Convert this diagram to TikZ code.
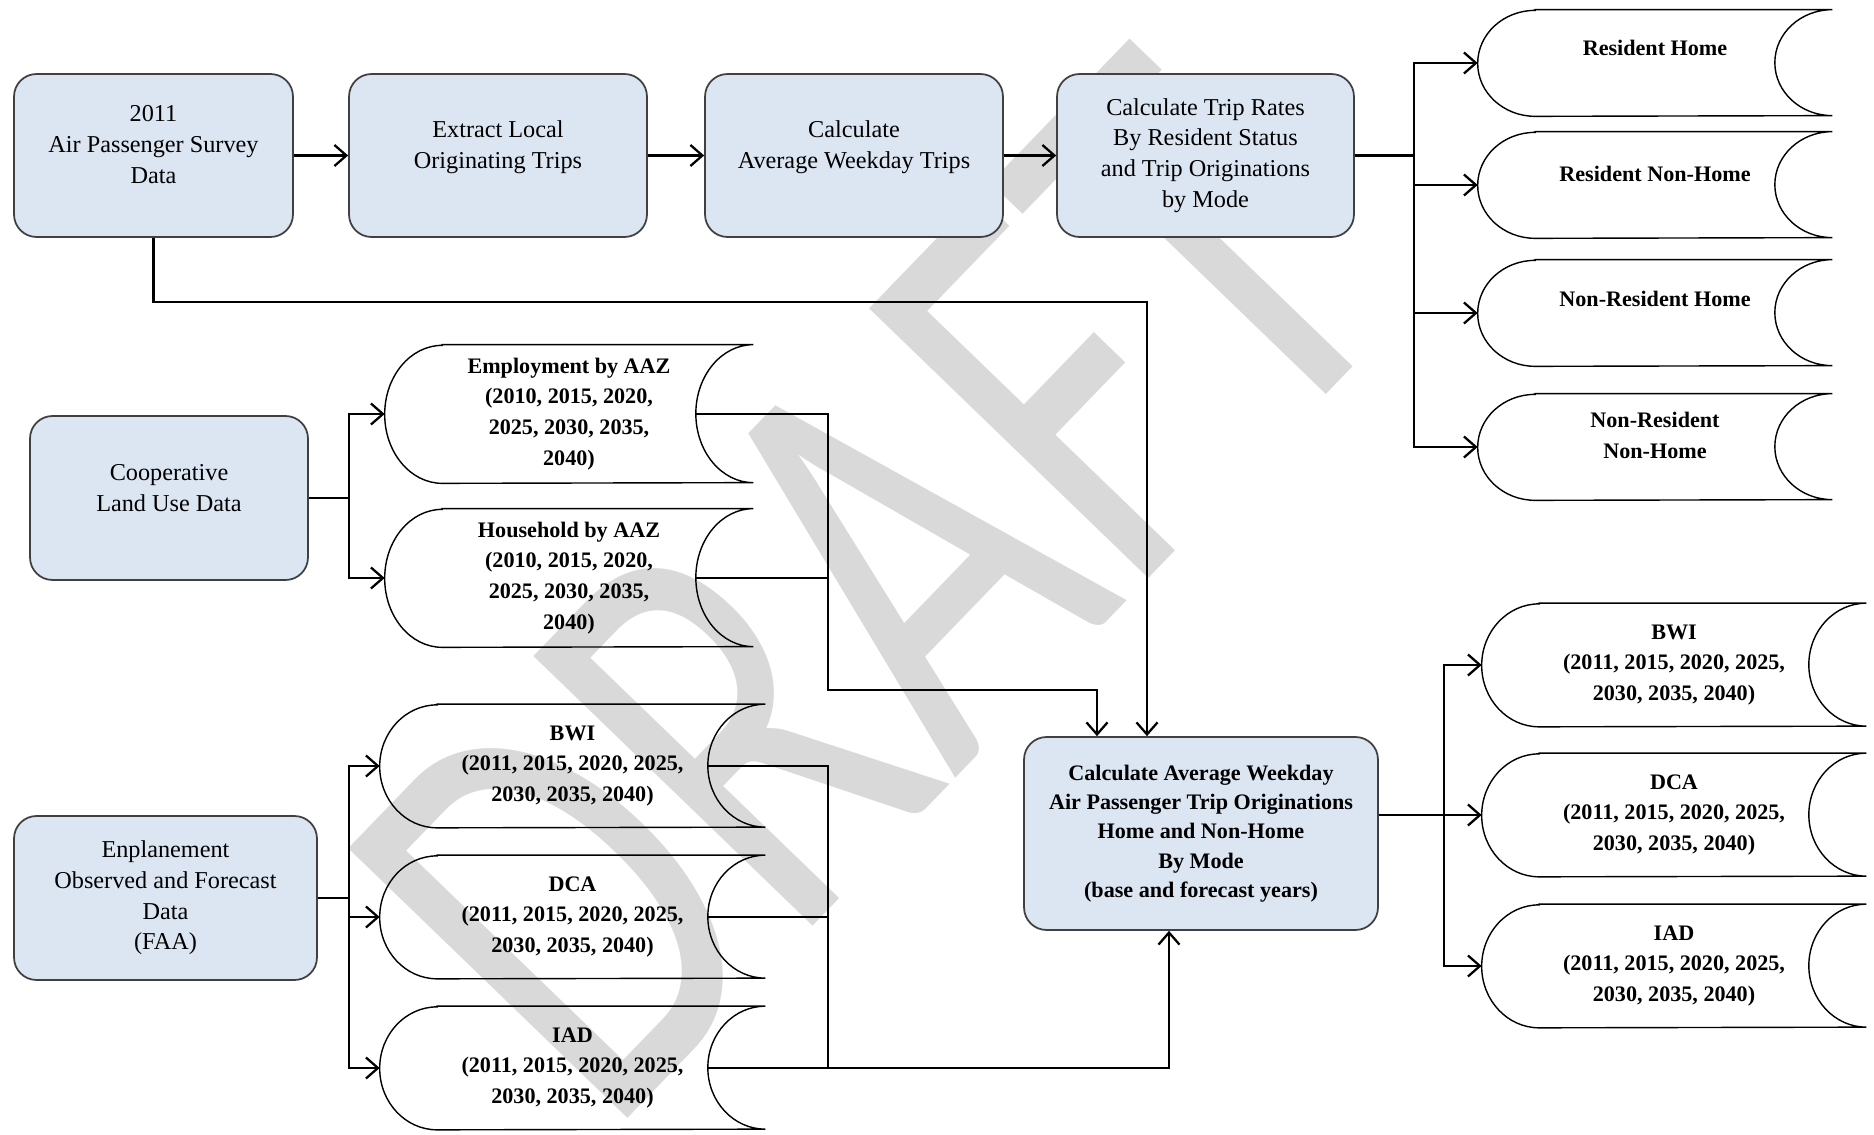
\documentclass[tikz,border=0pt]{standalone}
\usepackage{fontspec}
\setmainfont{Liberation Serif}
\newfontfamily\draftfont{Carlito}
\usetikzlibrary{calc,arrows.meta,positioning}
\definecolor{myblue}{RGB}{220,230,242}
\definecolor{myborder}{RGB}{64,64,64}
\definecolor{mygray}{RGB}{217,217,217}

% stored data outline: round left side, hollow right side
\newcommand\storeframe[2]{%
  \draw[line width=0.8pt] ([xshift=1.15cm]#1.north west) -- (#1.north east)
    arc[start angle=90, end angle=270, x radius=1.15cm, y radius=#2]
    -- ([xshift=1.15cm]#1.south west)
    arc[start angle=270, end angle=90, x radius=1.15cm, y radius=#2]
    -- cycle;}

\begin{document}
\begin{tikzpicture}[
  x=0.02cm, y=-0.02cm,
  >={Straight Barb[length=2.4mm,width=4.2mm]},
  link/.style={line width=1.3pt},
  procbox/.style={
    draw=myborder,
    line width=1pt,
    fill=myblue,
    rounded corners=0.45cm,
    align=center,
    inner sep=2pt,
    font=\fontsize{13.8}{17.5}\selectfont
    },
  mainbox/.style={
    procbox,
    font=\fontsize{12.6}{16.7}\selectfont\bfseries
    },
  store/.style 2 args={
    minimum width=#1,
    minimum height=#2,
    inner sep=0pt,
    align=center,
    font=\fontsize{12.6}{17.5}\selectfont\bfseries
    },
  watermark/.style={
    text=mygray,
    rotate=46,
    yscale=1.4,
    inner sep=0pt,
    anchor=base east,
    font=\draftfont\fontsize{246}{246}\selectfont
    }
]
\useasboundingbox (0,0) rectangle (1874,1135);

% watermark
\node[watermark] (draft) at (1413,305) {DRAFT};

% process boxes
\node[procbox, minimum width=5.58cm, minimum height=3.26cm] (survey) at (153.5,155.5)
  {2011\\Air Passenger Survey\\Data\\[-0.18cm]};
\node[procbox, minimum width=5.96cm, minimum height=3.26cm] (extract) at (498,155.5)
  {Extract Local\\Originating Trips\\[-0.18cm]};
\node[procbox, minimum width=5.96cm, minimum height=3.26cm] (avgtrips) at (854,155.5)
  {Calculate\\Average Weekday Trips\\[-0.18cm]};
\node[procbox, minimum width=5.94cm, minimum height=3.26cm] (triprates) at (1205.5,155.5)
  {Calculate Trip Rates\\By Resident Status\\and Trip Originations\\by Mode};
\node[procbox, minimum width=5.56cm, minimum height=3.28cm] (landuse) at (169,498)
  {Cooperative\\Land Use Data\\[-0.2cm]};
\node[procbox, minimum width=6.06cm, minimum height=3.28cm] (enplane) at (165.5,898)
  {Enplanement\\Observed and Forecast\\Data\\(FAA)};
\node[mainbox, minimum width=7.08cm, minimum height=3.86cm] (final) at (1201,833.5)
  {Calculate Average Weekday\\Air Passenger Trip Originations\\Home and Non-Home\\By Mode\\(base and forecast years)};

% trip rate outputs
\node[store={7.08cm}{2.12cm}] (rh) at (1655,63) {Resident Home\\};
\node[store={7.08cm}{2.12cm}] (rnh) at (1655,185) {Resident Non-Home\\[-0.16cm]};
\node[store={7.08cm}{2.12cm}] (nrh) at (1655,313) {Non-Resident Home\\[-0.04cm]};
\node[store={7.08cm}{2.12cm}] (nrnh) at (1655,447) {Non-Resident\\Non-Home\\[-0.16cm]};

% land use data
\node[store={7.36cm}{2.76cm}] (emp) at (569,414)
  {Employment by AAZ\\(2010, 2015, 2020,\\2025, 2030, 2035,\\2040)};
\node[store={7.36cm}{2.76cm}] (hh) at (569,578)
  {Household by AAZ\\(2010, 2015, 2020,\\2025, 2030, 2035,\\2040)};

% enplanements by airport
\node[store={7.7cm}{2.46cm}] (bwil) at (572.5,766) {BWI\\(2011, 2015, 2020, 2025,\\2030, 2035, 2040)};
\node[store={7.7cm}{2.46cm}] (dcal) at (572.5,917) {DCA\\(2011, 2015, 2020, 2025,\\2030, 2035, 2040)};
\node[store={7.7cm}{2.46cm}] (iadl) at (572.5,1068) {IAD\\(2011, 2015, 2020, 2025,\\2030, 2035, 2040)};

% trip originations by airport
\node[store={7.68cm}{2.46cm}] (bwir) at (1674,665) {BWI\\(2011, 2015, 2020, 2025,\\2030, 2035, 2040)};
\node[store={7.68cm}{2.46cm}] (dcar) at (1674,815) {DCA\\(2011, 2015, 2020, 2025,\\2030, 2035, 2040)};
\node[store={7.68cm}{2.46cm}] (iadr) at (1674,966) {IAD\\(2011, 2015, 2020, 2025,\\2030, 2035, 2040)};

\foreach \n in {rh,rnh,nrh,nrnh} \storeframe{\n}{1.06cm};
\foreach \n in {emp,hh} \storeframe{\n}{1.38cm};
\foreach \n in {bwil,dcal,iadl,bwir,dcar,iadr} \storeframe{\n}{1.23cm};

% junctions
\coordinate (jr) at (1414,155.5);
\coordinate (jl) at (349,498);
\coordinate (jg) at (349,898);
\coordinate (jb) at (1444,815);
\coordinate (k1) at (1147,302);
\coordinate (k2) at (828,690);
\coordinate (k3) at (1097,690);
\coordinate (k4) at (1169,1068);

% connectors
\foreach \a/\b in {survey/extract, extract/avgtrips, avgtrips/triprates}
  \draw[link,->] (\a) -- (\b);
\foreach \n in {rh,rnh,nrh,nrnh}
  \draw[link,->] (triprates) -- (jr) |- (\n);
\foreach \n in {emp,hh}
  \draw[link,->] (landuse) -- (jl) |- (\n);
\foreach \n in {bwil,dcal,iadl}
  \draw[link,->] (enplane) -- (jg) |- (\n);
\foreach \n in {bwir,dcar,iadr}
  \draw[link,->] (final.east |- jb) -- (jb) |- (\n);

\draw[link,->] (survey) |- (k1) -- (k1 |- final.north);
\draw[link,->] ([xshift=-1.15cm]emp.east) -| (k2) -- (k3) -- (k3 |- final.north);
\draw[link] ([xshift=-1.15cm]hh.east) -- (hh.east -| k2);
\draw[link,->] ([xshift=-1.15cm]bwil.east) -| (k2 |- iadl) -- (k4) -- (k4 |- final.south);
\draw[link] ([xshift=-1.15cm]dcal.east) -- (dcal.east -| k2);
\draw[link] ([xshift=-1.15cm]iadl.east) -- (iadl.east -| k2);

\end{tikzpicture}
\end{document}
